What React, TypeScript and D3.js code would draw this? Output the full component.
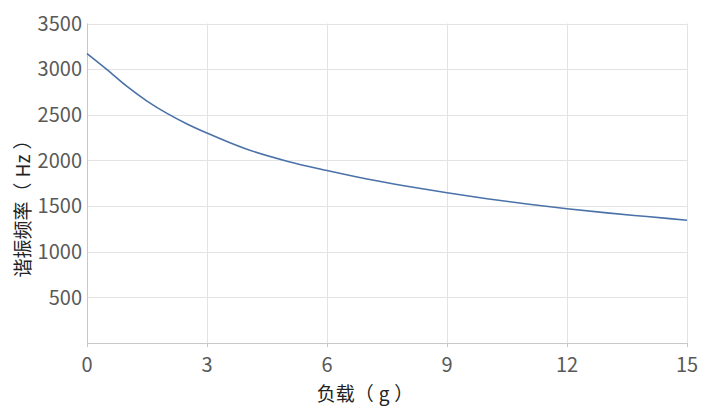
import React from "react";
import * as d3 from "d3";

const loads = [0, 0.5, 1, 1.5, 2, 2.5, 3, 4, 5, 6, 7, 8, 9, 10, 11, 12, 13, 14, 15];
const freqs = [3170, 2995, 2810, 2650, 2515, 2400, 2300, 2122, 1992, 1890, 1797, 1717, 1645, 1580, 1522, 1470, 1425, 1385, 1345];
const xTicks = [0, 3, 6, 9, 12, 15];
const yTicks = [500, 1000, 1500, 2000, 2500, 3000, 3500];
const xTitleParts = ["负载（", "g", "）"];
const yTitleParts = ["谐振频率（", "Hz", "）"];

export default function App() {
  const W = 723, H = 420;
  const left = 87, right = 687, top = 23.5, bottom = 343;
  const x = d3.scaleLinear().domain([0, 15]).range([left, right]);
  const y = d3.scaleLinear().domain([0, 3500]).range([bottom, top]);
  const line = d3
    .line<number>()
    .x((_, i) => x(loads[i]))
    .y((d) => y(d))
    .curve(d3.curveMonotoneX);
  const font = "'Noto Sans CJK SC', 'Noto Sans', sans-serif";
  const textColor = "#595959";
  return (
    <div style={{ position: "absolute", left: 0, top: 0 }}>
      <svg width={W} height={H} style={{ display: "block", background: "#fff" }}>
        {yTicks.map((t) => (
          <line key={"gy" + t} x1={left} x2={right} y1={Math.round(y(t)) + 0.5} y2={Math.round(y(t)) + 0.5} stroke="#e3e3e3" strokeWidth={1} />
        ))}
        {xTicks.filter((t) => t > 0).map((t) => (
          <line key={"gx" + t} x1={Math.round(x(t)) + 0.5} x2={Math.round(x(t)) + 0.5} y1={top} y2={bottom} stroke="#e3e3e3" strokeWidth={1} />
        ))}
        <line x1={left + 0.5} x2={left + 0.5} y1={top} y2={bottom} stroke="#c8c8c8" />
        <line x1={left} x2={right} y1={bottom + 0.5} y2={bottom + 0.5} stroke="#c8c8c8" />
        {xTicks.map((t) => (
          <line key={"tx" + t} x1={Math.round(x(t)) + 0.5} x2={Math.round(x(t)) + 0.5} y1={bottom} y2={bottom + 4} stroke="#c8c8c8" />
        ))}
        <path d={line(freqs) || ""} fill="none" stroke="#4a72a8" strokeWidth={1.6} />
        {yTicks.map((t) => (
          <text key={"ly" + t} x={left - 5} y={y(t)} dy="0.36em" textAnchor="end" fontFamily={font} fontSize={20} fill={textColor}>
            {t}
          </text>
        ))}
        {xTicks.map((t) => (
          <text key={"lx" + t} x={x(t)} y={372} textAnchor="middle" fontFamily={font} fontSize={20} fill={textColor}>
            {t}
          </text>
        ))}
        <text x={365} y={401} textAnchor="middle" fontFamily={font} fontSize={19} fill="#222">
          {xTitleParts[0]}
          <tspan dx={5}>{xTitleParts[1]}</tspan>
          <tspan dx={5}>{xTitleParts[2]}</tspan>
        </text>
        <text transform={`translate(30, 204) rotate(-90)`} textAnchor="middle" fontFamily={font} fontSize={19} fill="#222">
          {yTitleParts[0]}
          <tspan dx={5}>{yTitleParts[1]}</tspan>
          <tspan dx={5}>{yTitleParts[2]}</tspan>
        </text>
      </svg>
    </div>
  );
}
